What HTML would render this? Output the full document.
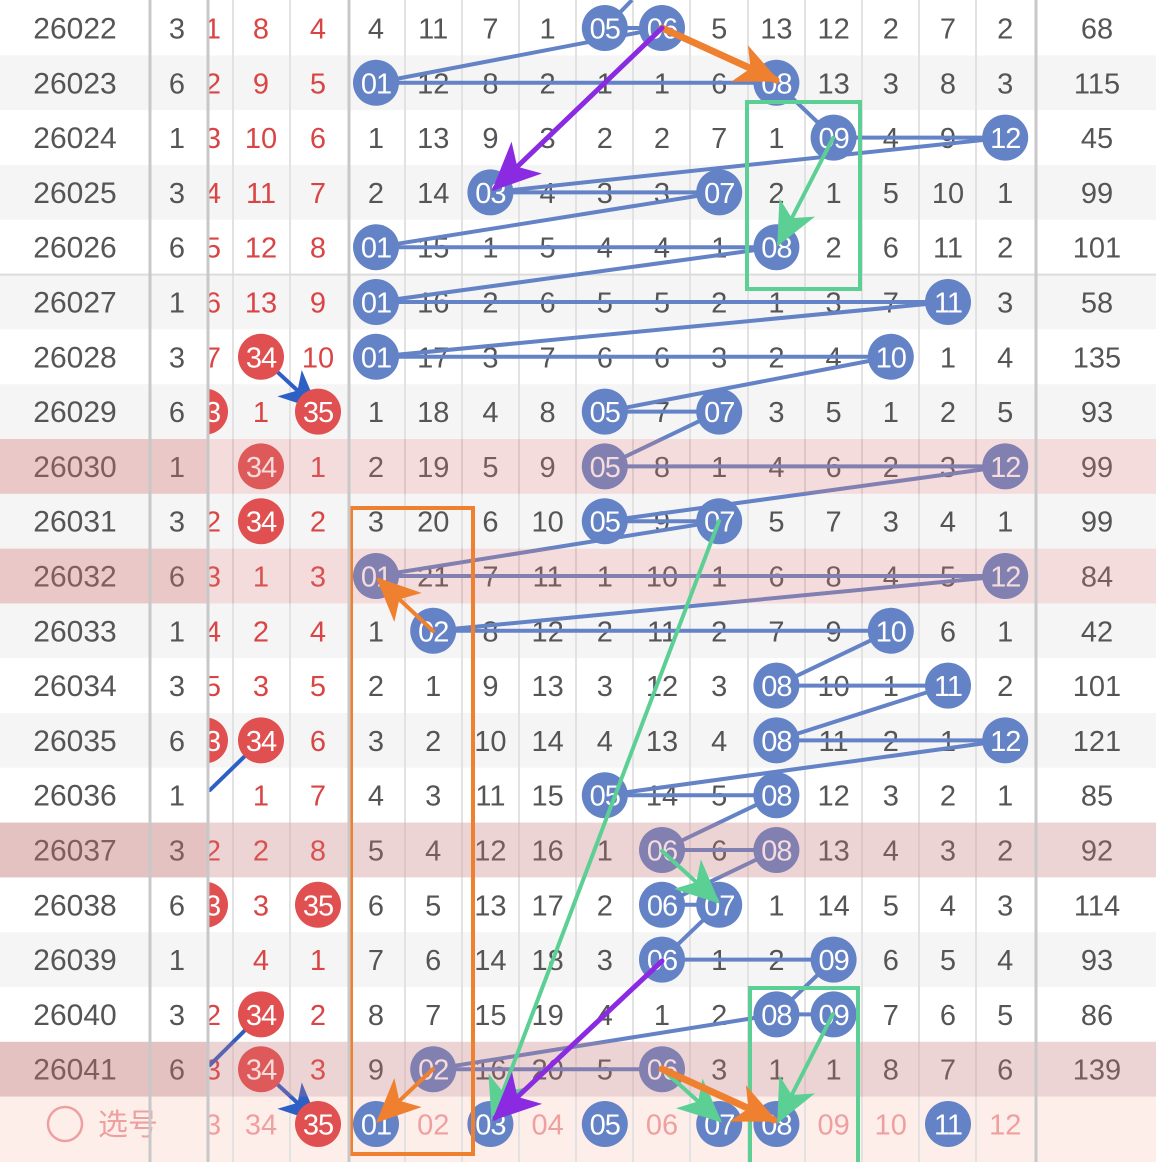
<!DOCTYPE html>
<html><head><meta charset="utf-8"><style>
html,body{margin:0;padding:0;background:#fff;}
svg{display:block;}
text{font-family:"Liberation Sans","Noto Sans CJK SC",sans-serif;}
</style></head><body>
<svg id="s" width="1156" height="1162" xmlns="http://www.w3.org/2000/svg">
<defs>
<marker id="mo" viewBox="0 0 44 40" refX="40" refY="20" markerUnits="userSpaceOnUse" markerWidth="44" markerHeight="40" orient="auto"><path d="M44,20 L0,0 L12,20 L0,40 Z" fill="#ee8030"/></marker>
<marker id="mp" viewBox="0 0 44 40" refX="40" refY="20" markerUnits="userSpaceOnUse" markerWidth="50" markerHeight="44" orient="auto"><path d="M44,20 L0,0 L12,20 L0,40 Z" fill="#8a2be2"/></marker>
<marker id="mg" viewBox="0 0 44 40" refX="40" refY="20" markerUnits="userSpaceOnUse" markerWidth="44" markerHeight="40" orient="auto"><path d="M44,20 L0,0 L12,20 L0,40 Z" fill="#5ccf95"/></marker>
<marker id="mb" viewBox="0 0 44 40" refX="40" refY="20" markerUnits="userSpaceOnUse" markerWidth="40" markerHeight="36" orient="auto"><path d="M44,20 L0,0 L12,20 L0,40 Z" fill="#2d5fc4"/></marker>
</defs>
</svg>
<script>
const NS="http://www.w3.org/2000/svg";
const S=document.getElementById('s');
function el(t,a,txt){const e=document.createElementNS(NS,t);for(const k in a)e.setAttribute(k,a[k]);if(txt!==undefined)e.textContent=txt;S.appendChild(e);return e;}
const rows=[
["26022","3",["1","8","4"],["4","11","7","1","*05","*06","5","13","12","2","7","2"],"68",0],
["26023","6",["2","9","5"],["*01","12","8","2","1","1","6","*08","13","3","8","3"],"115",0],
["26024","1",["3","10","6"],["1","13","9","3","2","2","7","1","*09","4","9","*12"],"45",0],
["26025","3",["4","11","7"],["2","14","*03","4","3","3","*07","2","1","5","10","1"],"99",0],
["26026","6",["5","12","8"],["*01","15","1","5","4","4","1","*08","2","6","11","2"],"101",0],
["26027","1",["6","13","9"],["*01","16","2","6","5","5","2","1","3","7","*11","3"],"58",0],
["26028","3",["7","*34","10"],["*01","17","3","7","6","6","3","2","4","*10","1","4"],"135",0],
["26029","6",["*33","1","*35"],["1","18","4","8","*05","7","*07","3","5","1","2","5"],"93",0],
["26030","1",["","*34","1"],["2","19","5","9","*05","8","1","4","6","2","3","*12"],"99",1],
["26031","3",["2","*34","2"],["3","20","6","10","*05","9","*07","5","7","3","4","1"],"99",0],
["26032","6",["3","1","3"],["*01","21","7","11","1","10","1","6","8","4","5","*12"],"84",1],
["26033","1",["4","2","4"],["1","*02","8","12","2","11","2","7","9","*10","6","1"],"42",0],
["26034","3",["5","3","5"],["2","1","9","13","3","12","3","*08","10","1","*11","2"],"101",0],
["26035","6",["*33","*34","6"],["3","2","10","14","4","13","4","*08","11","2","1","*12"],"121",0],
["26036","1",["","1","7"],["4","3","11","15","*05","14","5","*08","12","3","2","1"],"85",0],
["26037","3",["2","2","8"],["5","4","12","16","1","*06","6","*08","13","4","3","2"],"92",1],
["26038","6",["*33","3","*35"],["6","5","13","17","2","*06","*07","1","14","5","4","3"],"114",0],
["26039","1",["","4","1"],["7","6","14","18","3","*06","1","2","*09","6","5","4"],"93",0],
["26040","3",["2","*34","2"],["8","7","15","19","4","1","2","*08","*09","7","6","5"],"86",0],
["26041","6",["3","*34","3"],["9","*02","16","20","5","*06","3","1","1","8","7","6"],"139",1]
];
const Y=i=>28+54.8*i, TOP=i=>Y(i)-27.4;
const CX=k=>376+57.2*k; const RX=[213,261,318]; const RB=[205,261,318];
for(let i=0;i<20;i++) el('rect',{x:0,y:TOP(i),width:1156,height:54.8,fill:i%2?'#f5f5f5':'#fff'});
el('rect',{x:0,y:TOP(20),width:1156,height:70,fill:'#fdeeea'});
[233,290,405,462,519,576,633,690,748,805,862,919,976].forEach(x=>el('rect',{x:x-1,y:0,width:2,height:1162,fill:'#e2e2e2'}));
el('rect',{x:0,y:TOP(5)-1,width:1156,height:2,fill:'#dcdcdc'});
function t(x,y,s,c,sz){el('text',{x:x,y:y+10.5,'font-size':sz||29,'text-anchor':'middle',fill:c},s);}
const balls=[];
rows.forEach((r,i)=>{
  const y=Y(i);
  r[2].forEach((v,j)=>{if(!v)return; if(v[0]=='*')balls.push([RB[j],y,v.slice(1),'#e05050']); else t(RX[j],y,v,'#d94545');});
  r[3].forEach((v,k)=>{if(v[0]=='*')balls.push([CX(k),y,v.slice(1),'#6482c6']); else t(CX(k),y,v,'#555');});
  t(1097,y,r[4],'#555');
});
const by=Y(20);
t(205,by,"33",'#eea0a0');t(261,by,"34",'#eea0a0');balls.push([318,by,"35",'#e05050']);
["01","02","03","04","05","06","07","08","09","10","11","12"].forEach((v,k)=>{
  if(["01","03","05","07","08","11"].includes(v))balls.push([CX(k),by,v,'#6482c6']); else t(CX(k),by,v,'#eea0a0');
});
function ln(x1,y1,x2,y2,c,w,m){const a={x1:x1,y1:y1,x2:x2,y2:y2,stroke:c,'stroke-width':w||4,'stroke-linecap':'round'};if(m)a['marker-end']='url(#'+m+')';el('line',a);}
let prev=null;
el('line',{x1:605,y1:28,x2:632,y2:0,stroke:'#6482c6','stroke-width':4});
rows.forEach((r,i)=>{
  const ks=[];r[3].forEach((v,k)=>{if(v[0]=='*')ks.push(k);});
  const y=Y(i);
  if(ks.length>1) ln(CX(ks[0]),y,CX(ks[ks.length-1]),y,'#6482c6');
  if(prev){ let px=prev[0],py=prev[1]; if(r[0]=="26041"){px=CX(7);} ln(px,py,CX(ks[0]),y,'#6482c6');}
  prev=[CX(ks[ks.length-1]),y];
});
ln(261,Y(6),316,Y(7)-4,'#2d5fc4',4,'mb');
ln(210,790,261,Y(13),'#2d5fc4',4);
ln(210,1065,261,Y(18),'#2d5fc4',4);
ln(261,Y(19),316,by-4,'#2d5fc4',4,'mb');
balls.forEach(b=>{el('circle',{cx:b[0],cy:b[1],r:23,fill:b[3]});el('text',{x:b[0],y:b[1]+10.5,'font-size':29,'text-anchor':'middle',fill:'#fff','letter-spacing':'-1'},b[2]);});
rows.forEach((r,i)=>{if(r[5])el('rect',{x:208,y:TOP(i),width:948,height:54.8,fill:'rgba(215,120,120,0.26)'});});
el('rect',{x:747,y:102,width:113,height:187,fill:'none',stroke:'#5ccf95','stroke-width':4});
el('rect',{x:351,y:508,width:122,height:646,fill:'none',stroke:'#ee8030','stroke-width':4});
el('rect',{x:750,y:988,width:108,height:180,fill:'none',stroke:'#5ccf95','stroke-width':4});
ln(662,28,776,80,'#ee8030',7,'mo');
ln(662,28,495,188,'#8a2be2',5,'mp');
ln(833,138,779,243,'#5ccf95',4,'mg');
ln(433,631,379,580,'#ee8030',4,'mo');
ln(719,521,493,1118,'#5ccf95',4,'mg');
ln(662,851,717,901,'#5ccf95',4,'mg');
ln(662,961,495,1118,'#8a2be2',5,'mp');
ln(833,1014,779,1120,'#5ccf95',4,'mg');
ln(433,1069,379,1120,'#ee8030',4,'mo');
ln(662,1069,719,1120,'#5ccf95',4,'mg');
ln(662,1069,774,1120,'#ee8030',7,'mo');
el('rect',{x:0,y:0,width:208,height:1162,fill:'#fff'});
for(let i=0;i<20;i++){el('rect',{x:0,y:TOP(i),width:208,height:54.8,fill:i%2?'#f5f5f5':'#fff'});}
el('rect',{x:0,y:TOP(20),width:208,height:70,fill:'#fdeeea'});
el('rect',{x:0,y:TOP(5)-1,width:208,height:2,fill:'#dcdcdc'});
rows.forEach((r,i)=>{t(75,Y(i),r[0],'#555',30);t(177,Y(i),r[1],'#555');});
rows.forEach((r,i)=>{if(r[5])el('rect',{x:0,y:TOP(i),width:208,height:54.8,fill:'rgba(200,110,110,0.38)'});});
el('circle',{cx:65,cy:by,r:17,fill:'none',stroke:'#eea0a0','stroke-width':2.5});
el('text',{x:98,y:by+11,'font-size':30,fill:'#eea0a0'},'选号');
[150,208,349,1036].forEach(x=>el('rect',{x:x-1.5,y:0,width:3,height:1162,fill:'#c8c8c8'}));
</script>
</body></html>
